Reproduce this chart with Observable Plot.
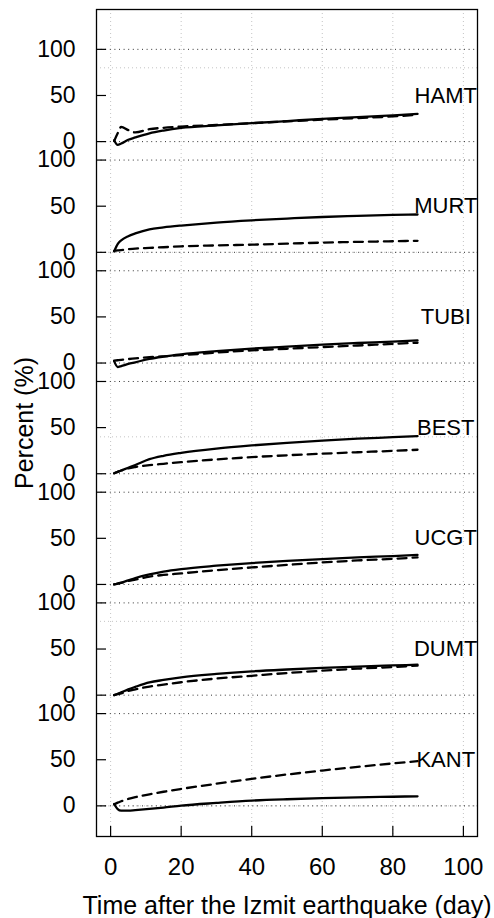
<!DOCTYPE html>
<html><head><meta charset="utf-8">
<script src="https://cdn.jsdelivr.net/npm/d3@7"></script>
<script src="https://cdn.jsdelivr.net/npm/@observablehq/plot@0.6"></script>
<style>body{margin:0;background:#fff;}</style>
</head><body><div id="chart"></div>
<script>
// Stations from top panel to bottom panel
const stations = ["HAMT","MURT","TUBI","BEST","UCGT","DUMT","KANT"];
// Days after the Izmit earthquake at which the curves are read
const days = [1, 2, 3, 5, 7, 11, 15, 20, 30, 40, 50, 60, 70, 80, 87];
// Percent values (solid and dashed curve of each station)
const hamtSolid  = [1.5, -3.5, -2, 2, 4.5, 9, 12, 14.8, 17.5, 20, 22.3, 24.6, 26.5, 28.5, 30];
const hamtDashed = [0.5, 9, 16, 12.5, 10, 13.5, 15, 16.3, 18, 20, 22, 23.8, 25.5, 27.3, 29];
const murtSolid  = [1, 9, 13, 17.5, 20.5, 25, 27, 29, 32.3, 34.7, 36.6, 38.3, 39.5, 40.5, 41];
const murtDashed = [1.5, 2, 2.5, 3.3, 4, 4.8, 5.5, 6.5, 7.5, 8.3, 9.4, 10.5, 11.3, 12, 12.5];
const tubiSolid  = [2, -4.3, -3.3, -1, 0.8, 4.5, 7, 9.4, 12.8, 15.6, 17.8, 19.9, 21.7, 23.3, 24.6];
const tubiDashed = [2.5, 3, 3.5, 4.3, 5, 6.5, 7.3, 8.5, 11.3, 13.7, 15.5, 17.3, 19, 20.8, 22];
const bestSolid  = [0.5, 2, 3.5, 6.5, 9.5, 15.8, 19.5, 22.7, 27.3, 30.7, 33.5, 36, 38, 39.6, 40.8];
const bestDashed = [0.5, 2, 3.5, 5.8, 7.3, 9.3, 10.8, 12.6, 15.5, 18, 20, 21.7, 23.3, 24.8, 26];
const ucgtSolid  = [0, 1, 2, 4.5, 7, 11, 14, 16.7, 20.3, 23.2, 25.5, 27.5, 29.3, 30.8, 32];
const ucgtDashed = [0, 0.8, 1.6, 3.8, 5.3, 8.5, 10.3, 12, 15.5, 18.4, 21.2, 23.8, 26, 27.8, 29.3];
const dumtSolid  = [0, 1.5, 3, 6.3, 9, 13.8, 16.5, 19.3, 23, 25.8, 27.8, 29.5, 31, 32.2, 33];
const dumtDashed = [0, 1, 2, 4.5, 6.3, 9.3, 11.5, 14, 18, 21, 24, 26.5, 28.7, 30.5, 32];
const kantSolid  = [2, -3.5, -5.2, -5.2, -4.6, -3.3, -1.8, 0.3, 3.2, 5.7, 7.2, 8.3, 9.2, 9.9, 10.4];
const kantDashed = [1.5, 3.5, 5, 7.5, 9.5, 12.5, 15.3, 18.4, 24, 29.3, 34, 38.3, 42.3, 46, 48.5];

const solidSeries  = [hamtSolid, murtSolid, tubiSolid, bestSolid, ucgtSolid, dumtSolid, kantSolid];
const dashedSeries = [hamtDashed, murtDashed, tubiDashed, bestDashed, ucgtDashed, dumtDashed, kantDashed];

const xTicks = [0, 20, 40, 60, 80, 100];
const panelTicks = [0, 50, 100];
const panelRefs = [0, 100];
const gridY = [0, 200, 400, 600, 800];
const labelDay = 95;
const labelLevel = 50;
const panelStep = 120;

const n = stations.length;
const offsetOf = i => (n - 1 - i) * panelStep;

const rows = [];
stations.forEach((s, i) => {
  days.forEach((d, j) => {
    rows.push({station: s, kind: "solid", day: d, y: solidSeries[i][j] + offsetOf(i)});
    rows.push({station: s, kind: "dashed", day: d, y: dashedSeries[i][j] + offsetOf(i)});
  });
});
const yTicks = stations.flatMap((s, i) => panelTicks.map(t => t + offsetOf(i)));
const refLines = stations.flatMap((s, i) => panelRefs.map(t => t + offsetOf(i)));
const labels = stations.map((s, i) => ({station: s, day: labelDay, y: labelLevel + offsetOf(i)}));

const W = 494, H = 918, mL = 96, mR = 17, mT = 9, mB = 82;
const plotW = W - mL - mR, plotH = H - mT - mB, tickLen = 10;
const font = "'Liberation Sans', Arial, Helvetica, sans-serif";

const chart = Plot.plot({
  width: W, height: H,
  marginLeft: mL, marginRight: mR, marginTop: mT, marginBottom: mB,
  style: {fontFamily: font, fontSize: "22px", color: "black", background: "white"},
  x: {domain: [-4, 104]},
  y: {domain: [-33.2, 863.2]},
  marks: [
    Plot.ruleX(xTicks, {stroke: "#c4c4c4", strokeDasharray: "1,3"}),
    Plot.ruleY(gridY, {stroke: "#c4c4c4", strokeDasharray: "1,3"}),
    Plot.ruleY(refLines, {stroke: "#333", strokeDasharray: "1,3.6"}),
    Plot.line(rows.filter(r => r.kind === "solid"), {x: "day", y: "y", z: "station", stroke: "black", strokeWidth: 2.3, curve: "monotone-x"}),
    Plot.line(rows.filter(r => r.kind === "dashed"), {x: "day", y: "y", z: "station", stroke: "black", strokeWidth: 2.3, strokeDasharray: "9,6", curve: "monotone-x"}),
    Plot.ruleY(yTicks, {stroke: "black", strokeWidth: 1.2, insetRight: plotW - tickLen}),
    Plot.ruleX(xTicks, {stroke: "black", strokeWidth: 1.2, insetTop: plotH - tickLen}),
    Plot.axisY({ticks: yTicks, tickFormat: d => String(((d % panelStep) + panelStep) % panelStep), tickSize: 0, tickPadding: 21, label: null, fontSize: 23}),
    Plot.axisX({ticks: xTicks, tickSize: 0, tickPadding: 21, label: null, fontSize: 24}),
    Plot.text(labels, {x: "day", y: "y", text: "station", fontSize: 22, fill: "black"}),
    Plot.text(["Time after the Izmit earthquake (day)"], {text: d => d, frameAnchor: "bottom", textAnchor: "middle", lineAnchor: "middle", dy: 69, fontSize: 25, fill: "black"}),
    Plot.text(["Percent (%)"], {text: d => d, frameAnchor: "left", textAnchor: "middle", lineAnchor: "middle", rotate: -90, dx: -72, fontSize: 25, fill: "black"}),
    Plot.frame({stroke: "black", strokeWidth: 1.3})
  ]
});
document.getElementById("chart").appendChild(chart);
</script>
</body></html>
